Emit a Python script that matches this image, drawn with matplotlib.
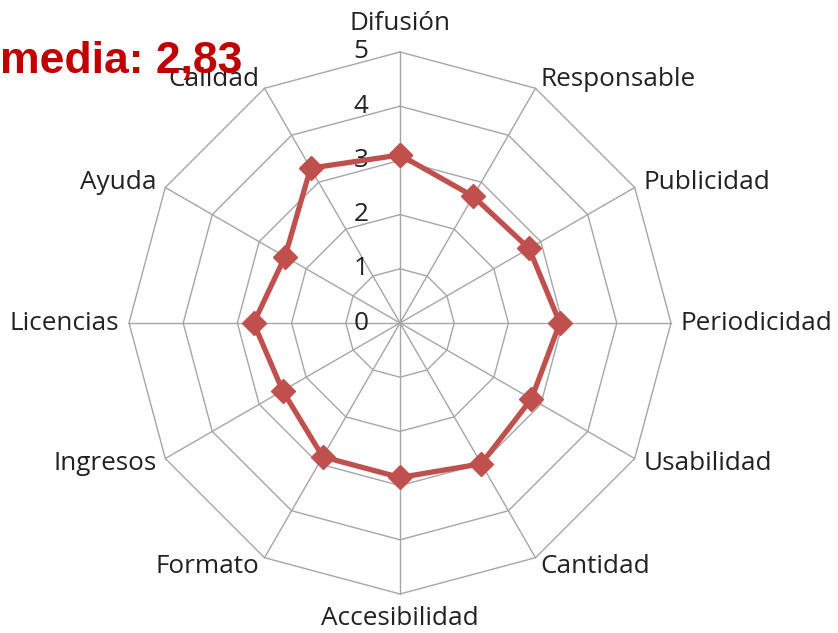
import numpy as np
import matplotlib
matplotlib.use("Agg")
import matplotlib.pyplot as plt

categories = ["Difusión", "Responsable", "Publicidad", "Periodicidad", "Usabilidad",
              "Cantidad", "Accesibilidad", "Formato", "Ingresos", "Licencias",
              "Ayuda", "Calidad"]
values = [3.1, 2.7, 2.75, 2.95, 2.8, 3.0, 2.85, 2.85, 2.5, 2.7, 2.45, 3.3]
ticks = [0, 1, 2, 3, 4, 5]
title = "media: 2,83"

W, H = 838, 633
fig = plt.figure(figsize=(W / 100, H / 100), dpi=100)
ax = fig.add_axes([0, 0, 1, 1])
ppu = 54.2  # pixels per unit
cx, cy = 400, 323
ax.set_xlim(-cx / ppu, (W - cx) / ppu)
ax.set_ylim(-(H - cy) / ppu, cy / ppu)
ax.axis("off")

n = len(categories)
ang = np.pi / 2 - 2 * np.pi * np.arange(n) / n
grid_col = "#A6A6A6"

for t in ticks[1:]:
    xs = t * np.cos(np.append(ang, ang[0]))
    ys = t * np.sin(np.append(ang, ang[0]))
    ax.plot(xs, ys, color=grid_col, lw=1.0, zorder=1)
rmax = max(ticks)
for a in ang:
    ax.plot([0, rmax * np.cos(a)], [0, rmax * np.sin(a)], color=grid_col, lw=1.0, zorder=1)

font = "Open Sans"
fs = 18.8
for t in ticks:
    ax.text(-0.72, t, str(t), ha="center", va="center", fontsize=fs, family=font,
            color="#222222", zorder=2)

rl = 5.18
for c, a in zip(categories, ang):
    cs = np.cos(a)
    sn = np.sin(a)
    if abs(cs) < 1e-6:
        r = 5.3 if sn > 0 else 5.22
        x, y = r * cs, r * sn
        ha = "center"
        va = "bottom" if sn > 0 else "top"
    else:
        x, y = rl * cs, rl * sn
        ha = "left" if cs > 0 else "right"
        va = "center"
    ax.text(x, y, c, ha=ha, va=va, fontsize=fs, family=font, color="#222222")

vx = np.array(values) * np.cos(ang)
vy = np.array(values) * np.sin(ang)
ax.plot(np.append(vx, vx[0]), np.append(vy, vy[0]), color="#C0504D", lw=3.8,
        marker="D", markersize=12, markerfacecolor="#C0504D",
        markeredgecolor="#C0504D", zorder=3)

fig.text(0.0, 1 - 62 / H, title, ha="left", va="center", fontsize=32,
         fontweight="bold", color="#C00000", family="Liberation Sans", zorder=5)

fig.savefig("out.png", dpi=100)
